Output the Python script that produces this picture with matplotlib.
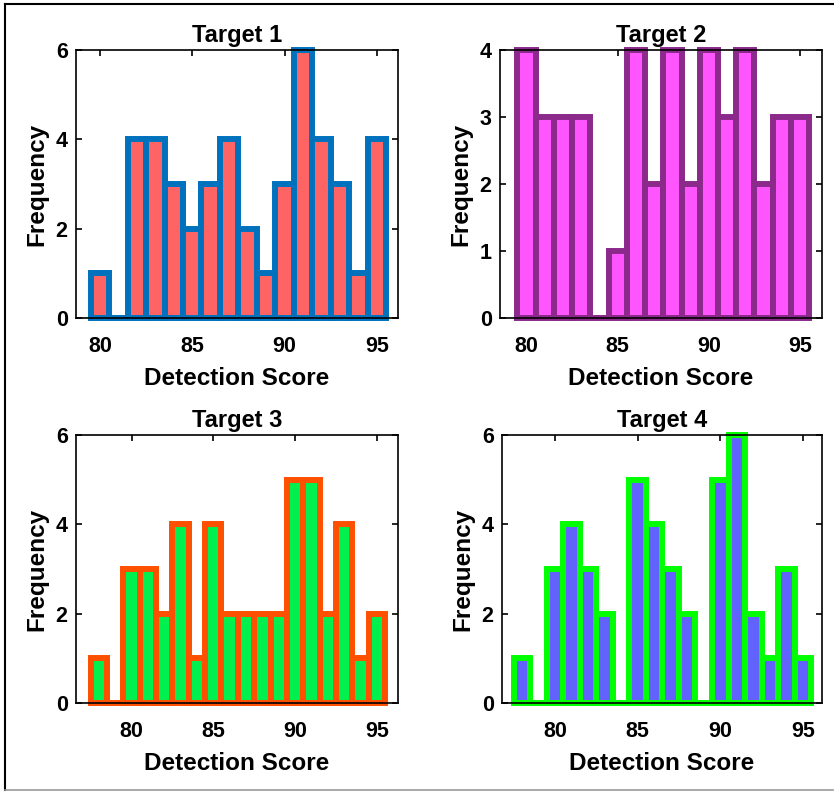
#!/usr/bin/env python3
"""
Detection score histograms for four targets (2x2 panel).
"""
import numpy as np
import matplotlib.pyplot as plt
from matplotlib.lines import Line2D

# Bin edges (width 1) and counts per target
edges_12 = np.arange(79.5, 96.0, 1.0)
edges_34 = np.arange(77.5, 96.0, 1.0)

counts_t1 = [1, 0, 4, 4, 3, 2, 3, 4, 2, 1, 3, 6, 4, 3, 1, 4]
counts_t2 = [4, 3, 3, 3, 0, 1, 4, 2, 4, 2, 4, 3, 4, 2, 3, 3]
counts_t3 = [1, 0, 3, 3, 2, 4, 1, 4, 2, 2, 2, 2, 5, 5, 2, 4, 1, 2]
counts_t4 = [1, 0, 3, 4, 3, 2, 0, 5, 4, 3, 2, 0, 5, 6, 2, 1, 3, 1]

titles = ['Target 1', 'Target 2', 'Target 3', 'Target 4']
x_ticks = [80, 85, 90, 95]

plt.rcParams['font.family'] = ['Liberation Sans', 'DejaVu Sans']
plt.rcParams['font.weight'] = 'bold'


def draw_hist(ax, edges, counts, face, edge, base, xlim, ylim, yticks, title):
    """MATLAB-style histogram: filled bars with thick outline"""
    left = edges[:-1]
    ax.bar(left, counts, width=1.0, align='edge', color=face,
           edgecolor=edge, linewidth=4.3, clip_on=False, zorder=2)
    ax.axhline(0, color=base, linewidth=1.0, zorder=1.5)
    ax.set_xlim(*xlim)
    ax.set_ylim(*ylim)
    ax.set_xticks(x_ticks)
    ax.set_yticks(yticks)
    ax.tick_params(direction='in', top=True, right=True, length=4,
                   width=1.2, labelsize=15.5)
    ax.tick_params(axis='x', pad=13)
    ax.tick_params(axis='y', pad=6)
    for lbl in ax.get_xticklabels() + ax.get_yticklabels():
        lbl.set_fontweight('bold')
    for sp in ax.spines.values():
        sp.set_linewidth(1.2)
        sp.set_zorder(3)
    ax.set_title(title, fontsize=17, fontweight='bold', pad=6)
    ax.set_xlabel('Detection Score', fontsize=17.5, fontweight='bold', labelpad=7)
    ax.set_ylabel('Frequency', fontsize=17.5, fontweight='bold', labelpad=5)


fig = plt.figure(figsize=(8.34, 7.92), dpi=100)
W, H = 834.0, 792.0


def px_axes(x0, x1, y0, y1):
    return fig.add_axes([x0 / W, 1 - y1 / H, (x1 - x0) / W, (y1 - y0) / H])


ax1 = px_axes(76, 398, 50, 318)
ax2 = px_axes(500, 822, 50, 318)
ax3 = px_axes(76, 398, 435, 703)
ax4 = px_axes(502, 822, 435, 703)

draw_hist(ax1, edges_12, counts_t1, '#FF6464', '#0072BD', '#B00000',
          (78.7, 96.15), (0, 6), [0, 2, 4, 6], titles[0])
draw_hist(ax2, edges_12, counts_t2, '#FF55FF', '#8C2A8C', '#E000E0',
          (78.55, 96.2), (0, 4), [0, 1, 2, 3, 4], titles[1])
draw_hist(ax3, edges_34, counts_t3, '#00F050', '#FF5000', '#009020',
          (76.6, 96.3), (0, 6), [0, 2, 4, 6], titles[2])
draw_hist(ax4, edges_34, counts_t4, '#6262FF', '#00FF00', '#0000A0',
          (76.8, 96.15), (0, 6), [0, 2, 4, 6], titles[3])

# outer frame of the original screenshot
fig.add_artist(Line2D([5 / W, 5 / W], [1 - 790 / H, 1 - 4 / H], color='black', lw=1.5))
fig.add_artist(Line2D([5 / W, 833 / W], [1 - 4 / H, 1 - 4 / H], color='black', lw=1.5))
fig.add_artist(Line2D([5 / W, 833 / W], [1 - 790 / H, 1 - 790 / H], color='#999999', lw=1.2))

plt.savefig('out.png', dpi=100)
